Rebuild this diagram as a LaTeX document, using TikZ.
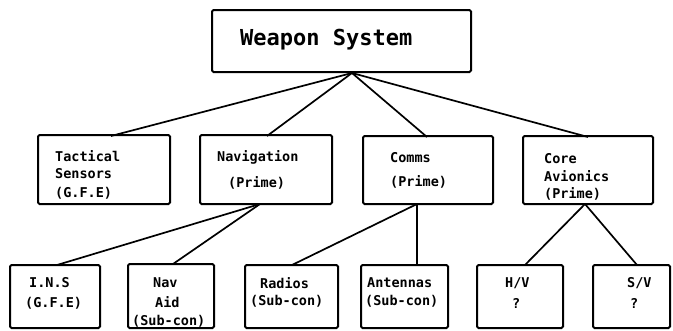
\documentclass[tikz,border=0pt]{standalone}
\usepackage{fontspec}
\newfontfamily\plotfont{DejaVu Sans Mono}[BoldFont={* Bold}]
\begin{document}
\begin{tikzpicture}[x=1pt,y=-1pt,
  box/.style={draw=black,line width=2pt,rounded corners=1.5pt},
  link/.style={draw=black,line width=1.7pt},
  lbl/.style={anchor=west,inner sep=0pt,font=\plotfont\bfseries\fontsize{13.5}{16}\selectfont},
  title/.style={anchor=west,inner sep=0pt,font=\plotfont\bfseries\fontsize{22}{26}\selectfont}]
\useasboundingbox (0,0) rectangle (673,330);
% boxes
\draw[box] (212,10) rectangle (471,72);
\draw[box] (38,135) rectangle (170,204);
\draw[box] (200,135) rectangle (332,204);
\draw[box] (363,136) rectangle (493,204);
\draw[box] (523,136) rectangle (653,204);
\draw[box] (10,265) rectangle (100,328);
\draw[box] (128,264) rectangle (214,328);
\draw[box] (245,265) rectangle (338,328);
\draw[box] (361,265) rectangle (448,328);
\draw[box] (477,265) rectangle (563,328);
\draw[box] (593,265) rectangle (670,328);
% junction points of the tree
\coordinate (ws) at (352,73);
\coordinate (tacT) at (111,136);
\coordinate (navT) at (267,136);
\coordinate (comT) at (427,137);
\coordinate (corT) at (588,137);
\coordinate (navB) at (260,204);
\coordinate (comB) at (417,204);
\coordinate (corB) at (585,204);
\coordinate (insT) at (57,265);
\coordinate (aidT) at (173,264);
\coordinate (radT) at (292,265);
\coordinate (antT) at (417,265);
\coordinate (hvT) at (525,265);
\coordinate (svT) at (637,265);
% connectors
\draw[link] (ws) -- (tacT);
\draw[link] (ws) -- (navT);
\draw[link] (ws) -- (comT);
\draw[link] (ws) -- (corT);
\draw[link] (navB) -- (insT);
\draw[link] (navB) -- (aidT);
\draw[link] (comB) -- (radT);
\draw[link] (comB) -- (antT);
\draw[link] (corB) -- (hvT);
\draw[link] (corB) -- (svT);
% labels
\node[title] (t0) at (240,40) {Weapon System};
\node[lbl] (t1) at (55,156) {Tactical};
\node[lbl] (t2) at (55,174) {Sensors};
\node[lbl] (t3) at (55,193) {(G.F.E)};
\node[lbl] (t4) at (217,157) {Navigation};
\node[lbl] (t5) at (228,183) {(Prime)};
\node[lbl] (t6) at (390,158) {Comms};
\node[lbl] (t7) at (390,182) {(Prime)};
\node[lbl] (t8) at (544,159) {Core};
\node[lbl] (t9) at (544,176) {Avionics};
\node[lbl] (t10) at (544,194) {(Prime)};
\node[lbl] (t11) at (29,283) {I.N.S};
\node[lbl] (t12) at (25,303) {(G.F.E)};
\node[lbl] (t13) at (153,283) {Nav};
\node[lbl] (t14) at (155,302) {Aid};
\node[lbl] (t15) at (132,321) {(Sub-con)};
\node[lbl] (t16) at (260,283) {Radios};
\node[lbl] (t17) at (250,301) {(Sub-con)};
\node[lbl] (t18) at (367,283) {Antennas};
\node[lbl] (t19) at (365,301) {(Sub-con)};
\node[lbl] (t20) at (505,283) {H/V};
\node[lbl] (t21) at (512,303) {?};
\node[lbl] (t22) at (627,283) {S/V};
\node[lbl] (t23) at (630,303) {?};
\end{tikzpicture}
\end{document}
